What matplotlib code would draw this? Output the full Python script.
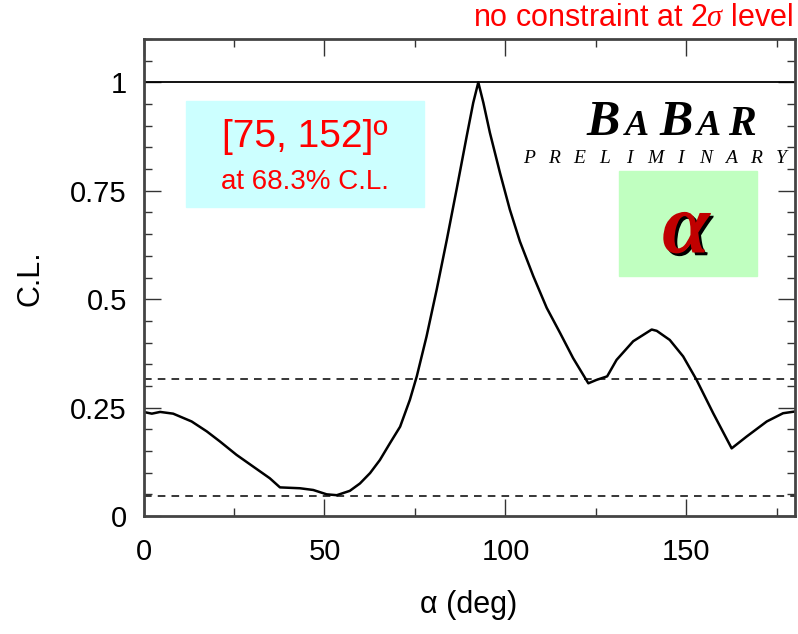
import numpy as np
import matplotlib
matplotlib.use('Agg')
import matplotlib.pyplot as plt
from matplotlib.ticker import MultipleLocator
import matplotlib.patheffects as pe

'''
CL scan of the CKM angle alpha (BaBar preliminary)
'''

plt.rcParams['font.family'] = ['Liberation Sans', 'DejaVu Sans']
plt.rcParams['mathtext.fontset'] = 'custom'
plt.rcParams['mathtext.it'] = 'Liberation Serif:italic'
plt.rcParams['mathtext.rm'] = 'Liberation Sans'

# curve
alpha_deg = [0, 2.3, 4.6, 8.2, 13.3, 17.5, 21.1, 25.7, 30.3, 34.9, 37.7, 43.2, 46.9,
             50.6, 53.4, 57.0, 59.8, 62.6, 65.3, 68.1, 70.9, 73.6, 75.5, 78.2, 81.0,
             83.8, 86.5, 89.3, 91.1, 92.5, 93.9, 95.7, 98.5, 101.2, 104.0, 107.7,
             111.4, 115.1, 118.7, 122.9, 125.2, 128.1, 130.7, 135.3, 140.4, 141.8,
             145.4, 149.1, 152.8, 157.4, 162.5, 166.6, 172.2, 176.7, 180]
cl = [0.240, 0.236, 0.240, 0.236, 0.218, 0.195, 0.172, 0.141, 0.114, 0.087, 0.066,
      0.064, 0.060, 0.050, 0.048, 0.058, 0.075, 0.099, 0.129, 0.168, 0.206, 0.268,
      0.322, 0.414, 0.522, 0.637, 0.753, 0.876, 0.953, 1.0, 0.953, 0.884, 0.791,
      0.707, 0.633, 0.553, 0.480, 0.422, 0.364, 0.306, 0.314, 0.322, 0.360, 0.403,
      0.430, 0.427, 0.406, 0.368, 0.314, 0.237, 0.156, 0.183, 0.218, 0.237, 0.241]

ref_levels = [1 - 0.683, 1 - 0.9545]   # 1 sigma and 2 sigma
x_ticks = [0, 50, 100, 150]
y_ticks = [0, 0.25, 0.5, 0.75, 1]
y_ticklabels = ['0', '0.25', '0.5', '0.75', '1']

W, H = 798, 634
fig = plt.figure(figsize=(W / 100, H / 100), dpi=100)
ax = fig.add_axes([143.5 / W, 1 - 516 / H, (795 - 143.5) / W, (516 - 39) / H])

def fx(px):
    return px / W

def fy(py):
    return 1 - py / H

ax.plot(alpha_deg, cl, color='black', lw=1.8, solid_joinstyle='round')
ax.axhline(1, color='black', lw=1.3)
for lev in ref_levels:
    ax.axhline(lev, color='black', lw=1.1, ls=(0, (5, 4)))

ax.set_xlim(0, 180)
ax.set_ylim(0, 1.1)
ax.set_xticks(x_ticks)
ax.set_yticks(y_ticks)
ax.set_yticklabels(y_ticklabels)
ax.xaxis.set_minor_locator(MultipleLocator(25))
ax.yaxis.set_minor_locator(MultipleLocator(0.05))
ax.tick_params(which='both', direction='in', top=True, right=True, width=1.0, color='#333333')
ax.tick_params(which='major', length=12, labelsize=21)
ax.tick_params(which='minor', length=6)
ax.tick_params(axis='x', which='major', pad=16)
ax.tick_params(axis='y', which='major', pad=12)
for s in ax.spines.values():
    s.set_linewidth(2)
    s.set_color('#444444')

fig.text(fx(30), fy(278), 'C.L.', rotation=90, fontsize=22, ha='center', va='center')
fig.text(fx(469), fy(605), 'α (deg)', fontsize=22, ha='center', va='center')
fig.text(fx(793), fy(18), r'no constraint at 2$\sigma$ level', fontsize=22,
         color='red', ha='right', va='center')

# cyan box with the 68% interval
fig.patches.append(plt.Rectangle((fx(186), fy(207)), (424 - 186) / W, (207 - 101) / H,
                                 transform=fig.transFigure, color='#ccffff', zorder=0))
fig.text(fx(305), fy(137), '[75, 152]º', fontsize=28, color='red', ha='center', va='center')
fig.text(fx(305), fy(182), 'at 68.3% C.L.', fontsize=20, color='red', ha='center', va='center')

# BaBar logo
logo = [('B', 603, 36), ('A', 637, 26), ('B', 676, 36), ('A', 709, 26), ('R', 742, 30)]
for ch, px, sz in logo:
    fig.text(fx(px), fy(135), ch, fontsize=sz, family='Liberation Serif',
             style='italic', weight='bold', ha='center', va='baseline')
prelim = 'PRELIMINARY'
for i, ch in enumerate(prelim):
    fig.text(fx(529 + i * 25.2), fy(163), ch, fontsize=14, family='Liberation Serif',
             style='italic', ha='center', va='baseline')

fig.patches.append(plt.Rectangle((fx(619), fy(276)), (757 - 619) / W, (276 - 171) / H,
                                 transform=fig.transFigure, color='#c0ffc0', zorder=0))
fig.text(fx(686), fy(232), 'α', fontsize=62, family='Liberation Serif', style='italic',
         weight='bold', color='#c00000', ha='center', va='center',
         path_effects=[pe.withSimplePatchShadow(offset=(2, -2), shadow_rgbFace='black', alpha=1)])

fig.savefig('out.png', dpi=100)
